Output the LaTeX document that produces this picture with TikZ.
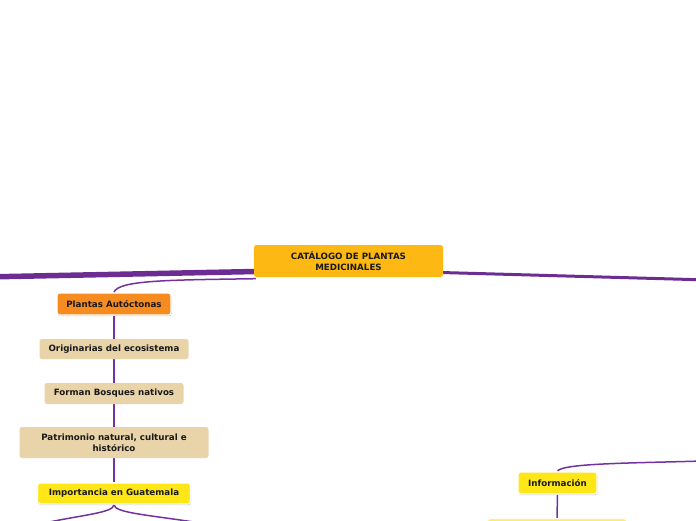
\documentclass[tikz,border=0pt]{standalone}
\usepackage{fontspec}
\setmainfont{DejaVu Sans}
\usetikzlibrary{shadows,backgrounds}
\definecolor{lnk}{RGB}{107,45,145}
\definecolor{lnk2}{RGB}{115,50,160}
\definecolor{rootc}{RGB}{253,184,19}
\definecolor{orng}{RGB}{246,139,31}
\definecolor{tan}{RGB}{233,211,168}
\definecolor{yel}{RGB}{255,230,23}
\definecolor{lyel}{RGB}{255,236,110}
\tikzset{
  base/.style={rounded corners=2.5pt, inner sep=0pt, align=center, font=\fontsize{8.7}{10.8}\selectfont\bfseries, text=black!90},
  rootbox/.style={base, fill=rootc},
  mainbox/.style={base, draw=white, line width=1.3pt, drop shadow={shadow xshift=0.6pt, shadow yshift=-1.2pt, fill=black!35, opacity=0.6}},
  subbox/.style={base, fill=tan},
  conn/.style={draw=lnk2, line width=1.5pt},
}
\begin{document}
\begin{tikzpicture}[x=1pt,y=-1pt]
\useasboundingbox (0,0) rectangle (696,520);
% nodes
\node[rootbox, minimum width=189pt, minimum height=32pt] (root) at (348.5,261) {CATÁLOGO DE PLANTAS\\MEDICINALES};
\node[mainbox, fill=orng, minimum width=114pt, minimum height=22pt] (pa) at (114,304) {Plantas Autóctonas};
\node[subbox, minimum width=149pt, minimum height=20pt] (or) at (114,349) {Originarias del ecosistema};
\node[subbox, minimum width=139pt, minimum height=21pt] (fb) at (114,393.5) {Forman Bosques nativos};
\node[subbox, minimum width=189pt, minimum height=31pt] (pn) at (114,442.5) {Patrimonio natural, cultural e\\histórico};
\node[mainbox, fill=yel, minimum width=153pt, minimum height=21pt] (ig) at (114,493.5) {Importancia en Guatemala};
\node[mainbox, fill=yel, minimum width=79pt, minimum height=22pt] (inf) at (557.5,483) {Información};
\node[base, fill=lyel, draw=white, line width=1pt, minimum width=139pt, minimum height=24pt] (nx) at (557,530.5) {};
% off-page ends
\coordinate (L) at (-6,276.8);
\coordinate (R) at (702,279.8);
\coordinate (R2) at (702,461);
\coordinate (iL) at (40,524);
\coordinate (iR) at (200,523);
% connectors
\begin{pgfonlayer}{background}
\draw[lnk, line width=5.5pt] ([xshift=2pt,yshift=-10.5pt]root.west) -- (L);
\draw[lnk, line width=3pt] ([xshift=-2pt,yshift=-11.5pt]root.east) -- (R);
\draw[conn] ([xshift=2pt,yshift=-1.5pt]root.south west) .. controls (170,280) and (118,280) .. (pa.north);
\draw[conn] (pa.south) -- (or.north);
\draw[conn] (or.south) -- (fb.north);
\draw[conn] (fb.south) -- (pn.north);
\draw[conn] (pn.south) -- (ig.north);
\draw[conn] (ig.south) .. controls (114,513) and (80,515) .. (iL);
\draw[conn] (ig.south) .. controls (114,513) and (150,515) .. (iR);
\draw[conn] (R2) .. controls (640,463) and (560,463) .. (inf.north);
\draw[conn] (inf.south) -- (nx.north);
\end{pgfonlayer}
\end{tikzpicture}
\end{document}
